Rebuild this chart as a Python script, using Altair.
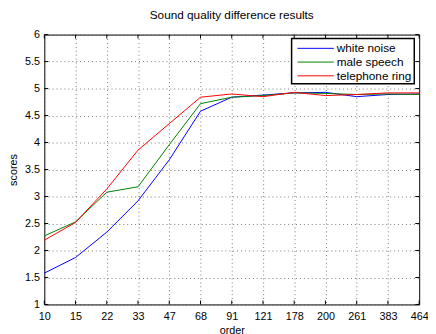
import altair as alt
import pandas as pd

orders = ["10", "15", "22", "33", "47", "68", "91", "121", "178", "200", "261", "383", "464"]
series = ["white noise", "male speech", "telephone ring"]
colors = ["#0000ff", "#008000", "#ff0000"]
white_noise = [1.58, 1.87, 2.34, 2.92, 3.68, 4.58, 4.84, 4.88, 4.92, 4.93, 4.85, 4.89, 4.90]
male_speech = [2.27, 2.53, 3.08, 3.18, 3.96, 4.72, 4.84, 4.87, 4.92, 4.91, 4.89, 4.90, 4.89]
telephone_ring = [2.19, 2.52, 3.14, 3.86, 4.35, 4.84, 4.90, 4.85, 4.93, 4.87, 4.89, 4.92, 4.92]
y_ticks = [1, 1.5, 2, 2.5, 3, 3.5, 4, 4.5, 5, 5.5, 6]

rows = []
for name, vals in zip(series, [white_noise, male_speech, telephone_ring]):
    for i, (o, v) in enumerate(zip(orders, vals)):
        rows.append({"order": o, "idx": i, "series": name, "score": v})
df = pd.DataFrame(rows)
xt = pd.DataFrame({"order": orders})
yt = pd.DataFrame({"score": y_ticks})

W, H = 382, 275
FONT = "Liberation Sans"

xscale = alt.Scale(type="point", padding=0, domain=orders)
yscale = alt.Scale(domain=[1, 6], nice=False, zero=False)

grid_style = dict(grid=True, gridColor="#555555", gridDash=[1, 3], gridWidth=1, gridOpacity=0.8)
xaxis = alt.Axis(title="order", labelAngle=0, ticks=False, domain=False,
                 labelPadding=6, titlePadding=4, labelOverlap=False, **grid_style)
yaxis = alt.Axis(title="scores", values=y_ticks, labelExpr="datum.value", ticks=False,
                 domain=False, labelPadding=5, titlePadding=6, labelOverlap=False,
                 **grid_style)

X = alt.X("order:O", sort=orders, scale=xscale, axis=xaxis)
Y = alt.Y("score:Q", scale=yscale, axis=yaxis)

lines = alt.Chart(df).mark_line(strokeWidth=1).encode(
    x=X, y=Y,
    color=alt.Color("series:N", scale=alt.Scale(domain=series, range=colors), legend=None),
    order=alt.Order("idx:Q"),
)

tick_b = alt.Chart(xt).mark_rule(color="black", strokeWidth=1).encode(
    x=X, y=alt.value(H), y2=alt.value(H - 4))
tick_t = alt.Chart(xt).mark_rule(color="black", strokeWidth=1).encode(
    x=X, y=alt.value(0), y2=alt.value(4))
tick_l = alt.Chart(yt).mark_rule(color="black", strokeWidth=1).encode(
    y=Y, x=alt.value(0), x2=alt.value(4))
tick_r = alt.Chart(yt).mark_rule(color="black", strokeWidth=1).encode(
    y=Y, x=alt.value(W), x2=alt.value(W - 4))

# manual legend
one = pd.DataFrame({"a": [0]})
LX0, LX1, LY0, LY1 = 252, 377, 4, 50
legend_layers = [
    alt.Chart(one).mark_rect(fill="white", stroke="black", strokeWidth=1.5).encode(
        x=alt.value(LX0), x2=alt.value(LX1), y=alt.value(LY0), y2=alt.value(LY1))
]
for i, (name, col) in enumerate(zip(series, colors)):
    yy = 14 + 14 * i
    d = pd.DataFrame({"series": [name]})
    legend_layers.append(alt.Chart(d).mark_rule(color=col, strokeWidth=1).encode(
        x=alt.value(LX0 + 6), x2=alt.value(LX0 + 43), y=alt.value(yy)))
    legend_layers.append(alt.Chart(d).mark_text(align="left", baseline="middle", font=FONT,
                                                fontSize=12, color="black").encode(
        x=alt.value(LX0 + 46), y=alt.value(yy), text="series:N"))

chart = alt.layer(lines, tick_b, tick_t, tick_l, tick_r, *legend_layers).properties(
    width=W, height=H,
    title=alt.Title("Sound quality difference results", fontSize=12, font=FONT,
                    fontWeight="normal", color="black", offset=7),
    autosize=alt.AutoSizeParams(type="none"),
    padding={"left": 37, "top": 24, "right": 9, "bottom": 27},
    background="white",
).configure_view(stroke="black", strokeWidth=1).configure_axis(
    labelFont=FONT, labelFontSize=11, labelColor="black",
    titleFont=FONT, titleFontSize=11, titleColor="black", titleFontWeight="normal",
)

chart.save("out.html", embed_options={"renderer": "svg", "actions": False})
